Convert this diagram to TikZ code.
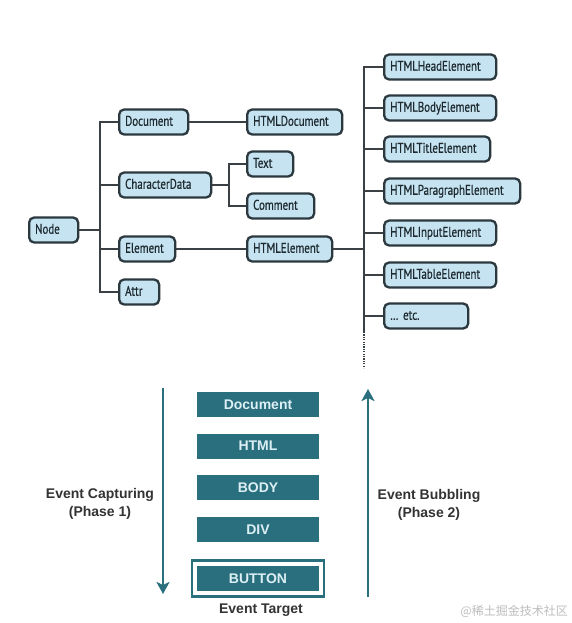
\documentclass[tikz,border=0pt]{standalone}
\usepackage{fontspec}
\setmainfont{Liberation Sans}
\newfontfamily\treefont[FakeStretch=0.78,FakeBold=0.6]{PT Sans}
\newfontfamily\cjkfont{Noto Sans CJK SC}
\usetikzlibrary{arrows.meta,fit}
\definecolor{boxfill}{HTML}{C6E3F1}
\definecolor{boxline}{HTML}{2B383E}
\definecolor{boxtext}{HTML}{1E2A30}
\definecolor{connc}{HTML}{3A4044}
\definecolor{evteal}{HTML}{2A6F7E}
\definecolor{evtext}{HTML}{DCEFF4}
\definecolor{lblc}{HTML}{333333}
\definecolor{wmc}{HTML}{BDBDBD}
\begin{document}
\begin{tikzpicture}[x=1pt,y=-1pt,
  tbox/.style={draw=boxline, fill=boxfill, line width=2.3pt, rounded corners=5pt,
    minimum height=25pt, inner xsep=6pt, inner ysep=0pt, anchor=west, align=left,
    text height=10pt, text depth=2.5pt,
    font=\treefont\fontsize{14}{16}\selectfont, text=boxtext},
  conn/.style={draw=connc, line width=1.8pt},
  dotconn/.style={draw=connc, line width=1.8pt, dash pattern=on 1.2pt off 1.2pt},
  ebox/.style={fill=evteal, minimum width=122pt, minimum height=25pt, inner sep=0pt,
    text=evtext, font=\bfseries\fontsize{14}{16}\selectfont},
  lbl/.style={text=lblc, font=\bfseries\fontsize{14}{18}\selectfont, align=center},
  flow/.style={draw=evteal, line width=2.6pt, -{Stealth[length=12pt,width=13pt,inset=3pt]}}
]
\useasboundingbox (0,0) rectangle (571,623);
\fill[white] (0,0) rectangle (571,623);

% ---------- tree ----------
\node[tbox, text width=37pt] (node) at (28,230) {Node};
\node[tbox, text width=57pt] (doc) at (118,122) {Document};
\node[tbox, text width=83pt] (hdoc) at (246,122) {HTMLDocument};
\node[tbox, text width=80pt] (cd) at (118,185) {CharacterData};
\node[tbox, text width=34pt] (text) at (246,164) {Text};
\node[tbox, text width=55pt] (comment) at (246,206) {Comment};
\node[tbox, text width=44pt] (el) at (118,249) {Element};
\node[tbox, text width=73pt] (hel) at (246,249) {HTMLElement};
\node[tbox, text width=28pt] (attr) at (118,292) {Attr};

\node[tbox, text width=100pt] (hhead) at (383,67) {HTMLHeadElement};
\node[tbox, text width=100pt] (hbody) at (383,108) {HTMLBodyElement};
\node[tbox, text width=94pt] (htitle) at (383,149) {HTMLTitleElement};
\node[tbox, text width=124pt] (hpara) at (383,191) {HTMLParagraphElement};
\node[tbox, text width=100pt] (hinput) at (383,233) {HTMLInputElement};
\node[tbox, text width=100pt] (htable) at (383,275) {HTMLTableElement};
\node[tbox, text width=72pt] (hetc) at (383,316) {… etc.};

\coordinate (t2) at (100,292);
\coordinate (cb) at (229,206);
\coordinate (t4) at (364,332);
\coordinate (t5) at (364,368);

\draw[conn] (doc.west) -| (t2) -- (attr.west);
\draw[conn] (node.east) -- (node.east -| t2);
\draw[conn] (cd.west -| t2) -- (cd.west);
\draw[conn] (el.west -| t2) -- (el.west);
\draw[conn] (doc.east) -- (hdoc.west);
\draw[conn] (text.west) -| (cb) -- (comment.west);
\draw[conn] (cd.east) -- (cd.east -| cb);
\draw[conn] (el.east) -- (hel.west);
\draw[conn] (hhead.west) -| (t4);
\draw[dotconn] (t4) -- (t5);
\draw[conn] (hel.east) -- (hel.east -| t4);
\foreach \n in {hbody,htitle,hpara,hinput,htable,hetc}
  \draw[conn] (\n.west -| t4) -- (\n.west);

% ---------- event flow ----------
\node[ebox] (edoc) at (258,404.5) {Document};
\node[ebox] (ehtml) at (258,446) {HTML};
\node[ebox] (ebody) at (258,487.5) {BODY};
\node[ebox] (ediv) at (258,529.5) {DIV};
\node[ebox] (button) at (258,578.5) {BUTTON};
\node[draw=evteal, line width=2.5pt, fit=(button), inner xsep=4.75pt, inner ysep=5.5pt] (bframe) {};

\coordinate (ca1) at (163,388);
\coordinate (ca2) at (163,594);
\coordinate (cb1) at (368,597);
\coordinate (cb2) at (368,389);
\draw[flow] (ca1) -- (ca2);
\draw[flow] (cb1) -- (cb2);

\node[lbl] (cap) at (100,504) {Event Capturing\\(Phase 1)};
\node[lbl] (bub) at (429,505) {Event Bubbling\\(Phase 2)};
\node[lbl] (target) at (261,610) {Event Target};

\node[text=wmc, font=\cjkfont\fontsize{12}{14}\selectfont, anchor=east, inner sep=0pt] (wm) at (568,611) {@稀土掘金技术社区};
\end{tikzpicture}
\end{document}
